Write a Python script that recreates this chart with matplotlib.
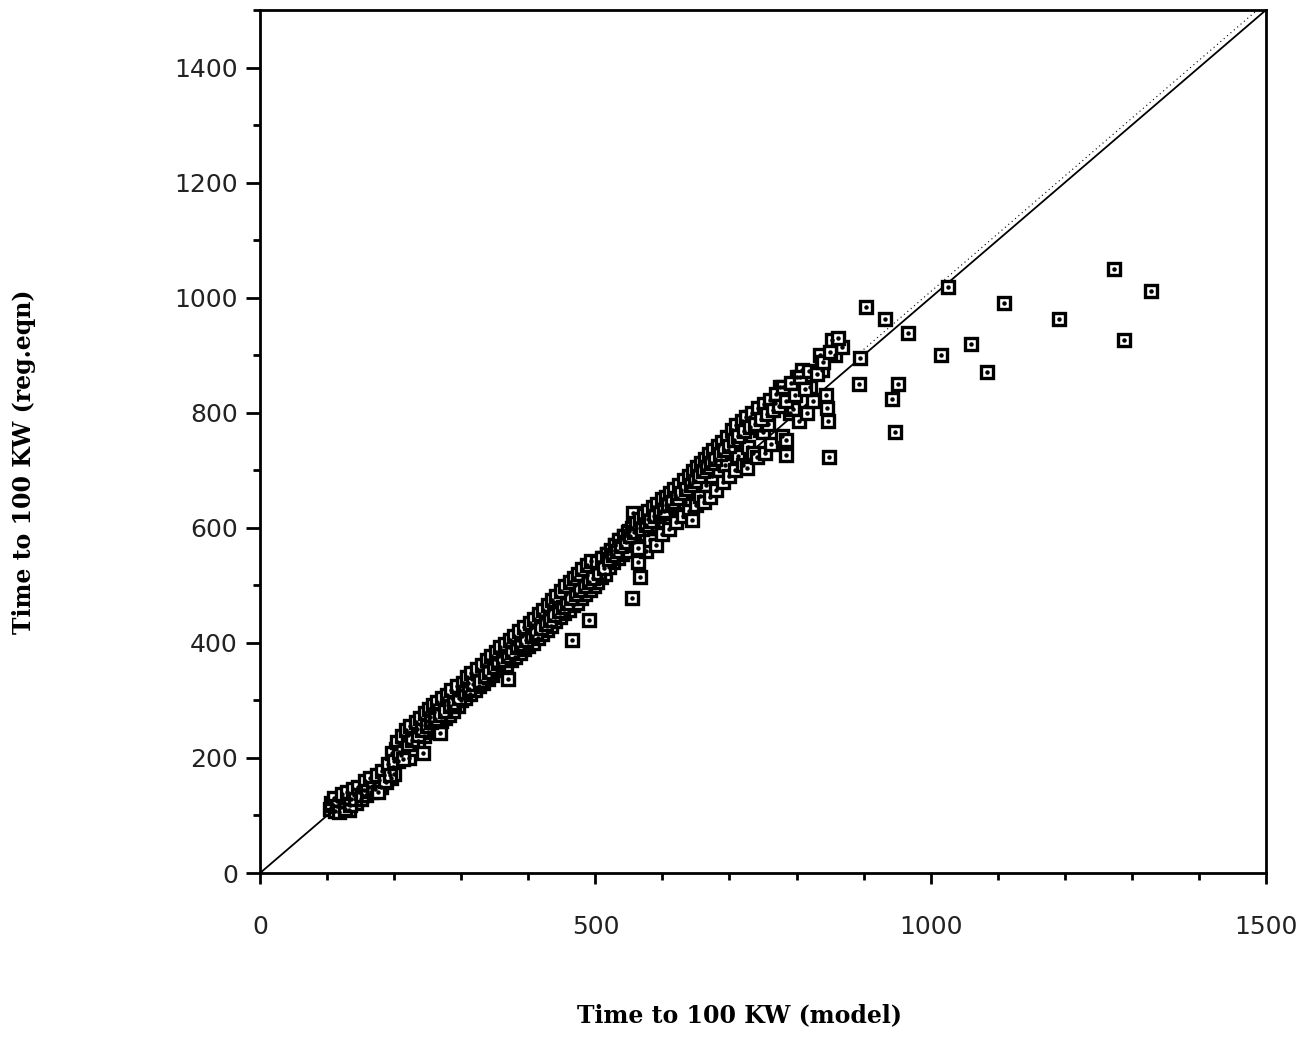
import matplotlib.pyplot as plt
from matplotlib.ticker import MultipleLocator

# model time vs regression-equation time (s)
model_t = [
    104, 108, 112, 115, 120, 124, 128, 132, 135, 140, 143, 148, 150, 155, 158, 162, 165, 170, 172, 178,
    180, 185, 188, 192, 195, 198, 200,
    202, 205, 208, 210, 214, 216, 220, 222, 225, 228, 230, 234, 236, 240, 243, 245, 248, 250, 254, 256,
    260, 262, 266, 268, 270, 274, 276, 280, 282, 286, 288, 292, 295, 298, 300,
    304, 306, 310, 313, 316, 320, 322, 326, 330, 332, 336, 340, 343, 346, 350, 353, 356, 360, 363, 366,
    370, 371, 374, 378, 380, 384, 388, 390, 394, 398, 400,
    404, 407, 410, 414, 418, 420, 424, 428, 430, 434, 438, 440, 444, 447, 450, 453, 456, 460, 463, 465,
    466, 470, 472, 476, 478, 482, 485, 488, 490, 492, 495, 498, 500,
    503, 505, 508, 512, 515, 518, 520, 524, 527, 530, 533, 536, 540, 543, 546, 550, 552, 555, 556, 558,
    560, 563, 565, 567, 570, 572, 576, 578, 581, 584, 588, 590, 594, 598, 600,
    603, 606, 610, 612, 615, 619, 620, 624, 627, 630, 634, 637, 640, 644, 646, 650, 653, 656, 660, 662,
    665, 668, 671, 674, 678, 680, 684, 688, 690, 694, 698, 700,
    705, 708, 712, 716, 720, 726, 728, 731, 735, 741, 745, 750, 753, 758, 762, 768, 775, 778, 784, 784,
    790, 795, 800, 803, 808, 815, 820, 825, 838, 844, 845, 847, 848, 853, 858, 868, 893, 895, 903, 932,
    942, 947, 951, 966, 1015, 1026, 1060, 1084, 1109, 1191, 1273, 1288, 1328,
]
reg_t = [
    112, 118, 108, 125, 115, 130, 120, 110, 128, 135, 122, 140, 128, 145, 135, 150, 140, 155, 146, 162,
    150, 170, 158, 175, 165, 185, 172,
    215, 195, 225, 205, 232, 212, 240, 200, 225, 245, 215, 250, 230, 258, 209, 238, 265, 245, 272, 250,
    280, 255, 285, 243, 265, 292, 270, 298, 275, 305, 282, 310, 290, 318, 300,
    325, 305, 330, 312, 338, 318, 345, 325, 352, 330, 360, 338, 365, 345, 372, 352, 378, 355, 385, 362,
    337, 392, 370, 398, 375, 405, 382, 412, 390, 418, 395,
    425, 400, 432, 408, 440, 415, 448, 422, 455, 430, 462, 438, 470, 445, 478, 452, 485, 458, 492, 405,
    465, 500, 470, 505, 478, 512, 485, 518, 440, 492, 525, 498, 530,
    505, 540, 515, 548, 520, 555, 532, 560, 540, 570, 548, 578, 555, 585, 560, 595, 570, 478, 626, 575,
    600, 540, 585, 515, 610, 590, 560, 615, 579, 600, 620, 570, 605, 630, 590,
    612, 640, 598, 625, 650, 657, 610, 635, 665, 620, 645, 672, 630, 614, 680, 640, 690, 655, 700, 645,
    675, 705, 654, 690, 715, 665, 700, 725, 680, 710, 735, 690,
    748, 700, 725, 760, 710, 704, 740, 793, 730, 723, 770, 767, 730, 780, 745, 817, 845, 760, 753, 727,
    800, 807, 863, 785, 875, 800, 845, 820, 875, 831, 809, 786, 723, 927, 900, 915, 850, 896, 983, 963,
    824, 767, 850, 939, 901, 1019, 920, 870, 990, 963, 1050, 927, 1012,
]

# second pass over the dense band
model_t2 = [
    106, 110, 114, 118, 122, 126, 130, 134, 138, 142, 146, 152, 156, 160, 164, 168, 174, 176, 182, 186,
    190, 194, 197, 200,
    204, 207, 211, 213, 218, 221, 224, 227, 232, 235, 238, 242, 246, 249, 252, 255, 258, 261, 264, 268,
    272, 275, 278, 283, 285, 289, 293, 297,
    302, 305, 308, 312, 315, 318, 324, 328, 331, 335, 338, 342, 345, 349, 352, 355, 358, 362, 365, 369,
    372, 376, 379, 383, 386, 389, 393, 397,
    402, 405, 409, 412, 416, 419, 422, 426, 429, 432, 436, 439, 442, 446, 449, 452, 455, 458, 462, 464,
    468, 471, 474, 477, 480, 484, 487, 490, 494, 497,
    502, 506, 510, 513, 517, 521, 523, 526, 529, 532, 535, 538, 542, 545, 548, 551, 554, 557, 561, 564,
    566, 569, 573, 575, 579, 582, 586, 589, 592, 596, 599,
    602, 605, 608, 611, 614, 617, 621, 625, 628, 632, 635, 639, 642, 645, 648, 652, 655, 658, 661, 664,
    667, 670, 673, 676, 679, 683, 686, 689, 692, 696, 699,
    703, 706, 710, 713, 718, 722, 725, 730, 733, 738, 742, 747, 752, 756, 760, 765, 770, 774, 780, 785,
    792, 798, 805, 812, 818, 830, 835, 840, 850, 862,
]
reg_t2 = [
    122, 130, 117, 106, 138, 112, 140, 118, 146, 128, 150, 136, 160, 142, 165, 148, 170, 140, 178, 160,
    190, 170, 208, 195,
    228, 210, 238, 198, 248, 225, 256, 232, 262, 240, 270, 248, 278, 255, 285, 262, 292, 268, 298, 275,
    305, 282, 310, 290, 318, 296, 325, 305,
    330, 315, 340, 320, 348, 328, 355, 334, 362, 342, 370, 350, 378, 358, 385, 365, 392, 370, 398, 378,
    405, 385, 412, 392, 420, 398, 428, 405,
    435, 412, 442, 418, 450, 425, 458, 432, 466, 440, 474, 448, 482, 455, 490, 462, 498, 470, 505, 478,
    512, 485, 520, 492, 528, 498, 535, 505, 542, 512,
    540, 522, 548, 530, 555, 545, 562, 552, 570, 560, 578, 568, 585, 575, 592, 585, 600, 592, 608, 565,
    615, 598, 622, 605, 630, 612, 636, 620, 642, 625, 650,
    630, 653, 640, 660, 645, 668, 652, 675, 660, 683, 668, 690, 675, 698, 682, 705, 690, 712, 698, 720,
    705, 728, 712, 735, 720, 742, 728, 750, 735, 757, 742,
    770, 752, 778, 760, 785, 768, 792, 775, 800, 780, 808, 790, 815, 798, 822, 805, 832, 812, 845, 820,
    852, 830, 862, 842, 872, 868, 900, 888, 906, 930,
]

line_x = [0, 1500]
line_y = [0, 1500]
fit_x = [900, 1490]
fit_y = [910, 1503]

xs = model_t + model_t2
ys = reg_t + reg_t2

fig = plt.figure(figsize=(13.07, 10.55), dpi=100)
ax = fig.add_axes([0.199, 0.1725, 0.7696, 0.818])

ax.plot(line_x, line_y, color='black', lw=1.3, zorder=2)
ax.plot(fit_x, fit_y, color='black', lw=0.8, ls=(0, (1, 3)), zorder=2)
ax.plot(xs, ys, ls='none', marker='s', ms=9, mfc='white', mec='black', mew=2.4, zorder=3)
ax.plot(xs, ys, ls='none', marker='o', ms=2.2, color='black', zorder=4)

ax.set_xlim(0, 1500)
ax.set_ylim(0, 1500)
ax.xaxis.set_major_locator(MultipleLocator(500))
ax.xaxis.set_minor_locator(MultipleLocator(100))
ax.yaxis.set_major_locator(MultipleLocator(200))
ax.yaxis.set_minor_locator(MultipleLocator(100))
ax.set_yticks([0, 200, 400, 600, 800, 1000, 1200, 1400])

for s in ax.spines.values():
    s.set_linewidth(2)
ax.tick_params(axis='x', which='major', length=8, width=2, pad=22, labelsize=18, labelcolor='#222222')
ax.tick_params(axis='y', which='major', length=10, width=2, pad=6, labelsize=18, labelcolor='#222222')
ax.tick_params(which='minor', length=5, width=2)

fig.text(0.566, 0.038, 'Time to 100 KW (model)', ha='center', va='center',
         family='DejaVu Serif', fontweight='bold', fontsize=17)
fig.text(0.018, 0.562, 'Time to 100 KW (reg.eqn)', ha='center', va='center', rotation=90,
         family='DejaVu Serif', fontweight='bold', fontsize=17)

fig.savefig('out.png', dpi=100)
